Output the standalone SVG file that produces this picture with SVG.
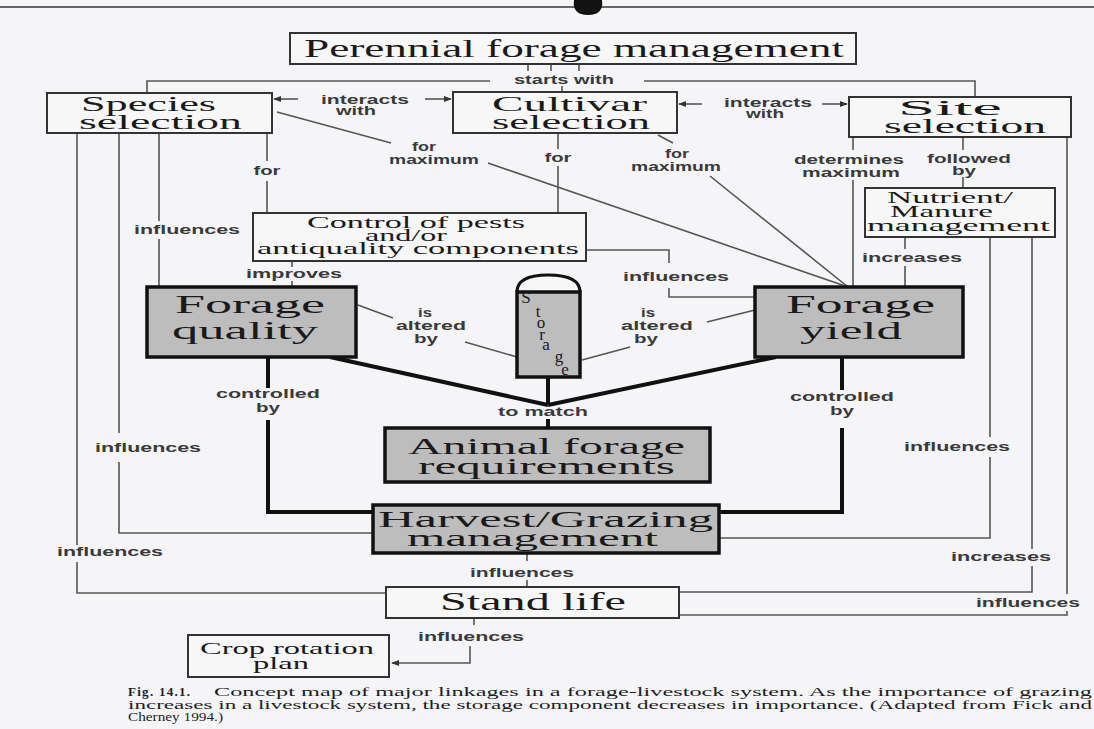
<svg xmlns="http://www.w3.org/2000/svg" width="1094" height="729" viewBox="0 0 1094 729">
<style>
.bg{fill:#f5f5f7}
.b{fill:#f7f7f8;stroke:#333;stroke-width:2}
.g{fill:#bdbdbd;stroke:#111;stroke-width:3.5}
.t{font-family:"Liberation Serif","DejaVu Serif",serif;fill:#1a1a1a}
.l{font-family:"Liberation Sans",Arial,sans-serif;font-size:12px;font-weight:bold;fill:#3a3a3a;text-anchor:middle}
.c{font-family:"Liberation Serif","DejaVu Serif",serif;font-size:13px;fill:#1e1e1e}
.thin{fill:none;stroke:#555;stroke-width:1.6}
.thick{fill:none;stroke:#111;stroke-width:4}
</style>
<defs>
<marker id="arr" viewBox="0 0 10 10" refX="9" refY="5" markerUnits="userSpaceOnUse" markerWidth="8" markerHeight="8" orient="auto"><path d="M0,1 L10,5 L0,9 z" fill="#333"/></marker>
</defs>
<rect class="bg" x="0" y="0" width="1094" height="729"/>
<path d="M0,7 H1094" stroke="#666" stroke-width="2" fill="none"/>
<path d="M574,0 Q572,15 588,15 Q604,15 602,0 Z" fill="#111"/>

<g id="connectors">
<path class="thin" d="M528,64 V71 M551,64 V71 M579,64 V71"/>
<path class="thin" d="M490,81 H147 V93"/>
<path class="thin" d="M644,81 H975 V97"/>
<path class="thin" d="M562,86 V92"/>
<path class="thin" d="M298,99 L274,99" marker-end="url(#arr)"/>
<path class="thin" d="M425,99 L451,99" marker-end="url(#arr)"/>
<path class="thin" d="M702,104 L679,104" marker-end="url(#arr)"/>
<path class="thin" d="M822,104 L847,104" marker-end="url(#arr)"/>
<path class="thin" d="M77,133 V545 M77,562 V593 H386"/>
<path class="thin" d="M119,133 V433 M119,462 V533 H373"/>
<path class="thin" d="M159,133 V221 M159,239 V287"/>
<path class="thin" d="M267,133 V161 M267,181 V213"/>
<path class="thin" d="M277,112 L391,143 M488,163 L848,287"/>
<path class="thin" d="M558,133 V149 M558,166 V213"/>
<path class="thin" d="M658,135 L673,143 M710,176 L848,287"/>
<path class="thin" d="M853,137 V150 M853,180 V287"/>
<path class="thin" d="M963,137 V150 M963,177 V188"/>
<path class="thin" d="M905,237 V249 M905,266 V287"/>
<path class="thin" d="M990,237 V437 M990,457 V538 H719"/>
<path class="thin" d="M1032,237 V549 M1032,566 V592 H679"/>
<path class="thin" d="M1067,137 V594 M1067,611 V615 H679"/>
<path class="thin" d="M292,261 V267 M292,281 V287"/>
<path class="thin" d="M586,250 H669 V263 M669,288 V297 H755"/>
<path class="thin" d="M358,305 L393,318 M465,342 L517,357"/>
<path class="thin" d="M582,360 L630,347 M707,322 L755,310"/>
<path class="thick" d="M330,357 L548,405 M776,357 L548,405 M548,377 V405 M548,419 V428"/>
<path class="thick" d="M268,357 V388 M268,420 V512 H373"/>
<path class="thick" d="M842,357 V390 M842,428 V512 H719"/>
<path class="thin" d="M527,553 V561 M527,580 V587"/>
<path class="thin" d="M474,618 V625 M470,646 V663 H392" marker-end="url(#arr)"/>
<g>
<text class="l" x="564" y="84" textLength="100" lengthAdjust="spacingAndGlyphs">starts with</text>
<text class="l" x="365" y="104" textLength="88" lengthAdjust="spacingAndGlyphs">interacts</text>
<text class="l" x="356" y="115" textLength="40" lengthAdjust="spacingAndGlyphs">with</text>
<text class="l" x="768" y="107" textLength="88" lengthAdjust="spacingAndGlyphs">interacts</text>
<text class="l" x="765" y="118" textLength="38" lengthAdjust="spacingAndGlyphs">with</text>
<text class="l" x="267" y="175" textLength="27" lengthAdjust="spacingAndGlyphs">for</text>
<text class="l" x="187" y="234" textLength="106" lengthAdjust="spacingAndGlyphs">influences</text>
<text class="l" x="148" y="452" textLength="106" lengthAdjust="spacingAndGlyphs">influences</text>
<text class="l" x="110" y="556" textLength="106" lengthAdjust="spacingAndGlyphs">influences</text>
<text class="l" x="424" y="151" textLength="24" lengthAdjust="spacingAndGlyphs">for</text>
<text class="l" x="434" y="164" textLength="90" lengthAdjust="spacingAndGlyphs">maximum</text>
<text class="l" x="558" y="162" textLength="27" lengthAdjust="spacingAndGlyphs">for</text>
<text class="l" x="677" y="158" textLength="24" lengthAdjust="spacingAndGlyphs">for</text>
<text class="l" x="676" y="171" textLength="90" lengthAdjust="spacingAndGlyphs">maximum</text>
<text class="l" x="849" y="164" textLength="110" lengthAdjust="spacingAndGlyphs">determines</text>
<text class="l" x="851" y="177" textLength="98" lengthAdjust="spacingAndGlyphs">maximum</text>
<text class="l" x="969" y="163" textLength="84" lengthAdjust="spacingAndGlyphs">followed</text>
<text class="l" x="964" y="175" textLength="24" lengthAdjust="spacingAndGlyphs">by</text>
<text class="l" x="912" y="262" textLength="100" lengthAdjust="spacingAndGlyphs">increases</text>
<text class="l" x="957" y="451" textLength="106" lengthAdjust="spacingAndGlyphs">influences</text>
<text class="l" x="1001" y="561" textLength="100" lengthAdjust="spacingAndGlyphs">increases</text>
<text class="l" x="1028" y="607" textLength="104" lengthAdjust="spacingAndGlyphs">influences</text>
<text class="l" x="294" y="278" textLength="96" lengthAdjust="spacingAndGlyphs">improves</text>
<text class="l" x="676" y="281" textLength="106" lengthAdjust="spacingAndGlyphs">influences</text>
<text class="l" x="425" y="317" textLength="14" lengthAdjust="spacingAndGlyphs">is</text>
<text class="l" x="431" y="330" textLength="70" lengthAdjust="spacingAndGlyphs">altered</text>
<text class="l" x="426" y="343" textLength="24" lengthAdjust="spacingAndGlyphs">by</text>
<text class="l" x="648" y="317" textLength="14" lengthAdjust="spacingAndGlyphs">is</text>
<text class="l" x="657" y="330" textLength="72" lengthAdjust="spacingAndGlyphs">altered</text>
<text class="l" x="646" y="343" textLength="24" lengthAdjust="spacingAndGlyphs">by</text>
<text class="l" x="543" y="416" textLength="90" lengthAdjust="spacingAndGlyphs">to match</text>
<text class="l" x="268" y="398" textLength="104" lengthAdjust="spacingAndGlyphs">controlled</text>
<text class="l" x="268" y="412" textLength="24" lengthAdjust="spacingAndGlyphs">by</text>
<text class="l" x="842" y="401" textLength="104" lengthAdjust="spacingAndGlyphs">controlled</text>
<text class="l" x="842" y="415" textLength="24" lengthAdjust="spacingAndGlyphs">by</text>
<text class="l" x="522" y="577" textLength="104" lengthAdjust="spacingAndGlyphs">influences</text>
<text class="l" x="471" y="641" textLength="106" lengthAdjust="spacingAndGlyphs">influences</text>
</g>
</g>

<g id="n-perennial"><rect class="b" x="290" y="33" width="566" height="31"/><text class="t" x="304" y="57" font-size="25" textLength="540" lengthAdjust="spacingAndGlyphs">Perennial forage management</text></g>
<g id="n-species"><rect class="b" x="47" y="93" width="225" height="40"/><text class="t" font-size="22" x="81" y="111" textLength="135" lengthAdjust="spacingAndGlyphs">Species</text><text class="t" font-size="22" x="79" y="129" textLength="163" lengthAdjust="spacingAndGlyphs">selection</text></g>
<g id="n-cultivar"><rect class="b" x="453" y="92" width="224" height="41"/><text class="t" font-size="22" x="492" y="111" textLength="155" lengthAdjust="spacingAndGlyphs">Cultivar</text><text class="t" font-size="22" x="492" y="129" textLength="158" lengthAdjust="spacingAndGlyphs">selection</text></g>
<g id="n-site"><rect class="b" x="849" y="97" width="222" height="40"/><text class="t" font-size="22" x="898" y="115" textLength="104" lengthAdjust="spacingAndGlyphs">Site</text><text class="t" font-size="22" x="884" y="133" textLength="162" lengthAdjust="spacingAndGlyphs">selection</text></g>
<g id="n-nutrient"><rect class="b" x="865" y="188" width="190" height="49"/><text class="t" font-size="16" x="887" y="203" textLength="126" lengthAdjust="spacingAndGlyphs">Nutrient/</text><text class="t" font-size="16" x="890" y="217" textLength="103" lengthAdjust="spacingAndGlyphs">Manure</text><text class="t" font-size="16" x="867" y="231" textLength="183" lengthAdjust="spacingAndGlyphs">management</text></g>
<g id="n-control"><rect class="b" x="253" y="213" width="333" height="48"/><text class="t" font-size="16" x="307" y="228" textLength="218" lengthAdjust="spacingAndGlyphs">Control of pests</text><text class="t" font-size="16" x="365" y="241" textLength="82" lengthAdjust="spacingAndGlyphs">and/or</text><text class="t" font-size="16" x="257" y="254" textLength="322" lengthAdjust="spacingAndGlyphs">antiquality components</text></g>
<g id="n-quality"><rect class="g" x="147" y="287" width="209" height="70"/><text class="t" font-size="25" x="175" y="313" textLength="150" lengthAdjust="spacingAndGlyphs">Forage</text><text class="t" font-size="25" x="172" y="339" textLength="146" lengthAdjust="spacingAndGlyphs">quality</text></g>
<g id="n-storage"><path d="M517,292 Q517,275 548,275 Q580,275 580,292" fill="#f7f7f8" stroke="#111" stroke-width="3"/><rect class="g" x="517" y="292" width="63" height="85"/><text class="t" font-size="17" text-anchor="middle" x="526 538 541 542 546 559 565" y="303 317 328 340 350 362 375">Storage</text></g>
<g id="n-yield"><rect class="g" x="755" y="287" width="208" height="70"/><text class="t" font-size="25" x="786" y="313" textLength="149" lengthAdjust="spacingAndGlyphs">Forage</text><text class="t" font-size="25" x="800" y="339" textLength="102" lengthAdjust="spacingAndGlyphs">yield</text></g>
<g id="n-animal"><rect class="g" x="385" y="428" width="325" height="54"/><text class="t" font-size="23" x="408" y="454" textLength="277" lengthAdjust="spacingAndGlyphs">Animal forage</text><text class="t" font-size="23" x="418" y="474" textLength="257" lengthAdjust="spacingAndGlyphs">requirements</text></g>
<g id="n-harvest"><rect class="g" x="373" y="505" width="346" height="48"/><text class="t" font-size="23" x="378" y="527" textLength="335" lengthAdjust="spacingAndGlyphs">Harvest/Grazing</text><text class="t" font-size="23" x="407" y="546" textLength="251" lengthAdjust="spacingAndGlyphs">management</text></g>
<g id="n-stand"><rect class="b" x="386" y="587" width="293" height="31"/><text class="t" font-size="25" x="440" y="610" textLength="186" lengthAdjust="spacingAndGlyphs">Stand life</text></g>
<g id="n-crop"><rect class="b" x="188" y="635" width="201" height="42"/><text class="t" font-size="17" x="200" y="654" textLength="174" lengthAdjust="spacingAndGlyphs">Crop rotation</text><text class="t" font-size="17" x="253" y="669" textLength="56" lengthAdjust="spacingAndGlyphs">plan</text></g>

<g id="caption">
<text class="c" x="128" y="696" font-weight="bold" textLength="62">Fig. 14.1.</text>
<text class="c" x="214" y="696" textLength="878" lengthAdjust="spacingAndGlyphs">Concept map of major linkages in a forage-livestock system. As the importance of grazing</text>
<text class="c" x="128" y="709" textLength="964" lengthAdjust="spacingAndGlyphs">increases in a livestock system, the storage component decreases in importance. (Adapted from Fick and</text>
<text class="c" x="128" y="721" textLength="95" lengthAdjust="spacingAndGlyphs">Cherney 1994.)</text>
</g>
</svg>
